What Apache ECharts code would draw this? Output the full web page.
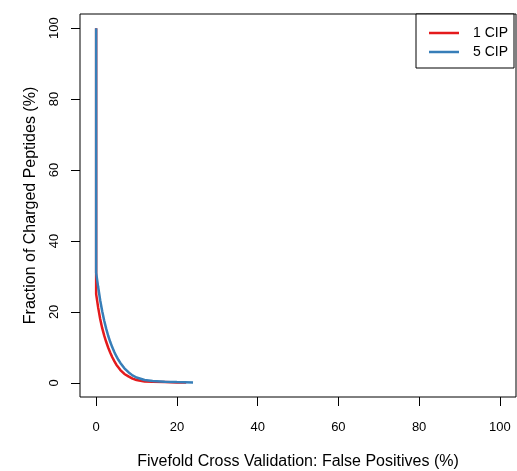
<!DOCTYPE html>
<html>
<head>
<meta charset="utf-8">
<script src="https://cdn.jsdelivr.net/npm/echarts@6/dist/echarts.min.js"></script>
<style>
  html, body { margin: 0; padding: 0; background: #fff; }
  #chart { width: 517px; height: 471px; }
</style>
</head>
<body>
<div id="chart"></div>
<script>
// tick labels
var xTicks = [0, 20, 40, 60, 80, 100];
var yTicks = [0, 20, 40, 60, 80, 100];

// 1 CIP curve (false positives %, fraction %)
var cip1X = [0, 0, 0.5, 1, 1.5, 2, 2.5, 3, 3.5, 4, 4.5, 5, 6, 7, 8, 9, 10, 12, 14, 17, 20, 22.3];
var cip1Y = [100, 25, 21.2, 18, 15.4, 13.3, 11.5, 9.9, 8.5, 7.2, 6.1, 5.1, 3.6, 2.5, 1.8, 1.2, 0.8, 0.4, 0.3, 0.2, 0.1, 0.1];

// 5 CIP curve
var cip5X = [0, 0, 0.5, 1, 1.5, 2, 2.5, 3, 3.5, 4, 4.5, 5, 5.5, 6, 7, 8, 9, 10, 12, 14, 17, 20, 24];
var cip5Y = [100, 31, 27, 23.3, 20.2, 17.5, 15.2, 13.2, 11.5, 10, 8.7, 7.5, 6.5, 5.6, 4.1, 3.0, 2.1, 1.5, 0.8, 0.5, 0.3, 0.2, 0.1];

function pairs(xs, ys) {
  var out = [];
  for (var i = 0; i < xs.length; i++) out.push([xs[i], ys[i]]);
  return out;
}

var font = '"Liberation Sans", Arial, Helvetica, sans-serif';
var chart = echarts.init(document.getElementById('chart'));

chart.setOption({
  animation: false,
  backgroundColor: '#fff',
  textStyle: { fontFamily: font },
  grid: {
    left: 80, right: 1, top: 14, bottom: 74,
    outerBoundsMode: 'none',
    containLabel: false,
    show: true, borderColor: '#000', borderWidth: 1
  },
  legend: {
    left: 416, top: 14,
    orient: 'vertical',
    backgroundColor: '#fff',
    borderColor: '#000', borderWidth: 1, borderRadius: 0,
    padding: [12, 6, 9, 13],
    itemGap: 5,
    itemWidth: 30, itemHeight: 2.5,
    icon: 'rect',
    textStyle: { fontSize: 14, color: '#000', fontFamily: font, padding: [0, 0, 0, 9] },
    data: ['1 CIP', '5 CIP']
  },
  xAxis: {
    type: 'value', min: -4, max: 104,
    name: 'Fivefold Cross Validation: False Positives (%)',
    nameLocation: 'middle', nameGap: 57,
    nameTextStyle: { fontSize: 16, color: '#000', fontFamily: font },
    axisLine: { show: false, onZero: false },
    splitLine: { show: false },
    axisTick: { show: true, length: 9, lineStyle: { color: '#000' }, customValues: xTicks },
    axisLabel: { fontSize: 13, color: '#000', margin: 24, customValues: xTicks }
  },
  yAxis: {
    type: 'value', min: -4, max: 104,
    name: 'Fraction of Charged Peptides (%)',
    nameLocation: 'middle', nameGap: 41,
    nameTextStyle: { fontSize: 16, color: '#000', fontFamily: font },
    axisLine: { show: false, onZero: false },
    splitLine: { show: false },
    axisTick: { show: true, length: 9, lineStyle: { color: '#000' }, customValues: yTicks },
    axisLabel: { fontSize: 13, color: '#000', margin: 19, rotate: 90, customValues: yTicks }
  },
  series: [
    {
      name: '1 CIP', type: 'line', showSymbol: false,
      color: '#e41a1c',
      lineStyle: { width: 2.5, color: '#e41a1c' },
      data: pairs(cip1X, cip1Y)
    },
    {
      name: '5 CIP', type: 'line', showSymbol: false,
      color: '#377eb8',
      lineStyle: { width: 2.5, color: '#377eb8' },
      data: pairs(cip5X, cip5Y)
    }
  ]
});
</script>
</body>
</html>
